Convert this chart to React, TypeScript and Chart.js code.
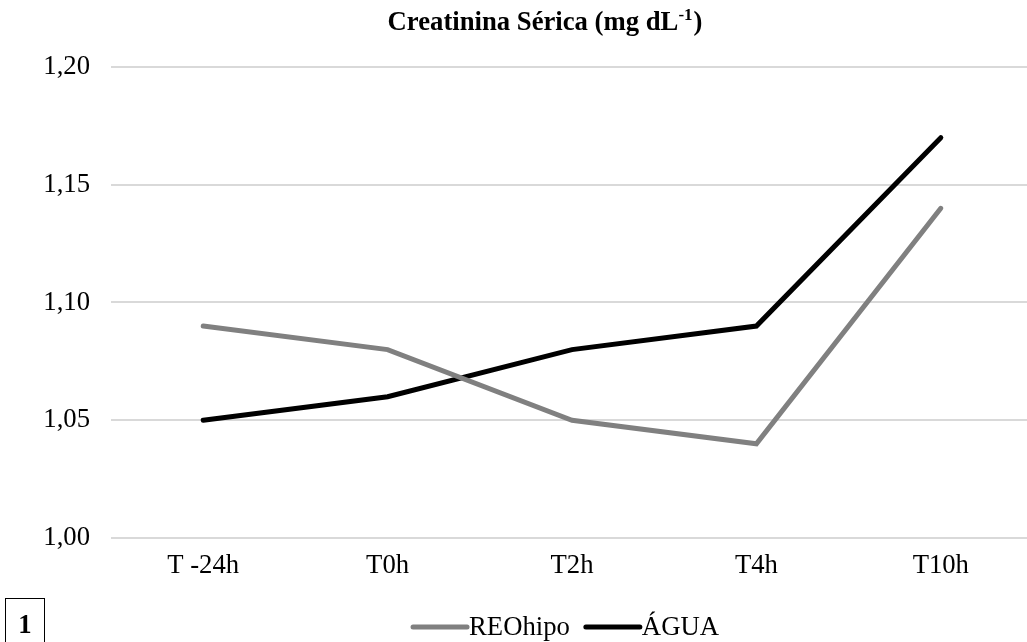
import React, { useEffect, useRef } from "react";
import { Chart, registerables } from "chart.js";

Chart.register(...registerables);

const categories = ["T -24h", "T0h", "T2h", "T4h", "T10h"];
const reohipo = [1.09, 1.08, 1.05, 1.04, 1.14];
const agua = [1.05, 1.06, 1.08, 1.09, 1.17];
const seriesNames = ["REOhipo", "ÁGUA"];
const seriesColors = ["#808080", "#000000"];
const titleMain = "Creatinina Sérica (mg dL";
const titleSup = "-1";
const titleEnd = ")";
const yMin = 1.0;
const yMax = 1.2;
const yStep = 0.05;

const FONT = "'Liberation Serif', 'Times New Roman', serif";
const FS = 26.7;

const overlayPlugin = {
  id: "overlay",
  afterDraw(chart: any) {
    const ctx = chart.ctx;
    ctx.save();
    // Title
    ctx.fillStyle = "#000";
    ctx.textBaseline = "alphabetic";
    ctx.textAlign = "left";
    const big = `bold ${FS}px ${FONT}`;
    const small = `bold 17px ${FONT}`;
    ctx.font = big;
    const w1 = ctx.measureText(titleMain).width;
    const w3 = ctx.measureText(titleEnd).width;
    ctx.font = small;
    const w2 = ctx.measureText(titleSup).width;
    const total = w1 + w2 + w3 + 1;
    let x = 545 - total / 2;
    const base = 30;
    ctx.font = big;
    ctx.fillText(titleMain, x, base);
    x += w1;
    ctx.font = small;
    ctx.fillText(titleSup, x, base - 10);
    x += w2 + 1;
    ctx.font = big;
    ctx.fillText(titleEnd, x, base);

    // Legend
    ctx.font = `${FS}px ${FONT}`;
    ctx.textBaseline = "middle";
    const lineLen = 56;
    const gap = 2;
    const itemGap = 14;
    const widths = seriesNames.map((n) => lineLen + gap + ctx.measureText(n).width);
    const tot = widths.reduce((a, b) => a + b, 0) + itemGap * (widths.length - 1);
    let lx = 565 - tot / 2;
    const ly = 627;
    seriesNames.forEach((n, i) => {
      ctx.strokeStyle = seriesColors[i];
      ctx.lineWidth = 5;
      ctx.lineCap = "round";
      ctx.beginPath();
      ctx.moveTo(lx + 2, ly);
      ctx.lineTo(lx + lineLen, ly);
      ctx.stroke();
      ctx.fillStyle = "#000";
      ctx.fillText(n, lx + lineLen + gap, ly + 1);
      lx += widths[i] + itemGap;
    });
    ctx.restore();
  },
};

export default function App() {
  const ref = useRef<HTMLCanvasElement>(null);
  useEffect(() => {
    if (!ref.current) return;
    const chart = new Chart(ref.current, {
      type: "line",
      data: {
        labels: categories,
        datasets: [
          {
            label: seriesNames[0],
            data: reohipo,
            borderColor: seriesColors[0],
            backgroundColor: seriesColors[0],
            borderWidth: 5,
            pointRadius: 0,
            tension: 0,
            borderCapStyle: "round",
            borderJoinStyle: "miter",
          },
          {
            label: seriesNames[1],
            data: agua,
            borderColor: seriesColors[1],
            backgroundColor: seriesColors[1],
            borderWidth: 5,
            pointRadius: 0,
            tension: 0,
            borderCapStyle: "round",
            borderJoinStyle: "miter",
          },
        ],
      },
      options: {
        animation: false,
        responsive: false,
        maintainAspectRatio: false,
        layout: { padding: { top: 67, right: 7, bottom: 0, left: 0 } },
        plugins: {
          legend: { display: false },
          title: { display: false },
          tooltip: { enabled: false },
        },
        scales: {
          x: {
            offset: true,
            grid: { display: false, drawTicks: false },
            border: { display: false },
            ticks: {
              color: "#000",
              font: { family: FONT, size: FS },
              padding: 12,
              maxRotation: 0,
              autoSkip: false,
            },
            afterFit(scale: any) {
              scale.height = 104;
            },
          },
          y: {
            min: yMin,
            max: yMax,
            grid: { color: "#d9d9d9", lineWidth: 2, drawTicks: false },
            border: { display: false },
            ticks: {
              stepSize: yStep,
              color: "#000",
              font: { family: FONT, size: FS },
              padding: 21,
              callback: (v: any) => Number(v).toFixed(2).replace(".", ","),
            },
            afterFit(scale: any) {
              scale.width = 111;
            },
          },
        },
      },
      plugins: [overlayPlugin],
    });
    return () => chart.destroy();
  }, []);

  return (
    <div
      style={{
        position: "fixed",
        left: 0,
        top: 0,
        width: 1027,
        height: 642,
        overflow: "hidden",
        background: "#fff",
      }}
    >
      <canvas ref={ref} width={1040} height={642} style={{ display: "block" }} />
      <div
        style={{
          position: "absolute",
          left: 5,
          top: 598,
          width: 40,
          height: 60,
          border: "1px solid #000",
          boxSizing: "border-box",
          fontFamily: FONT,
          fontWeight: "bold",
          fontSize: FS,
          lineHeight: 1,
          textAlign: "center",
          paddingTop: 12,
        }}
      >
        1
      </div>
    </div>
  );
}
